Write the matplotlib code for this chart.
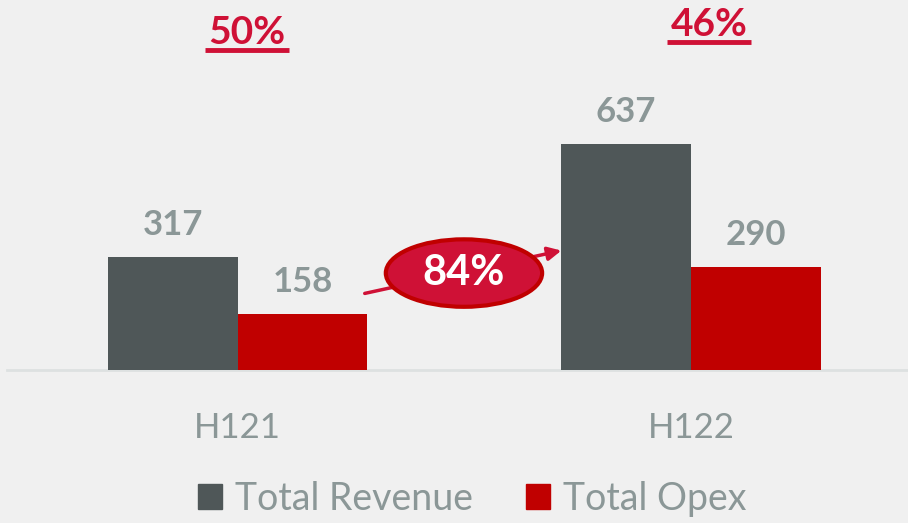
import matplotlib; matplotlib.use('Agg')
import matplotlib.pyplot as plt
from matplotlib.patches import Ellipse, Patch
import numpy as np

periods = ['H121', 'H122']
revenue = [317, 637]
opex = [158, 290]
opex_ratio = ['50%', '46%']
growth = '84%'

BG = '#f0f0f0'; REV = '#4f5758'; OPX = '#c00000'; PINK = '#cf1136'; TXT = '#8b9797'
plt.rcParams['font.family'] = ['Lato', 'DejaVu Sans']

fig = plt.figure(figsize=(9.08, 5.23), dpi=100)
fig.patch.set_facecolor(BG)
ax = fig.add_axes([0, 153/523, 1, 370/523])
ax.set_facecolor(BG)
for s in ax.spines.values(): s.set_visible(False)

x = np.arange(len(periods)); w = 0.286
ax.bar(x - w/2, revenue, w, color=REV, zorder=2)
ax.bar(x + w/2, opex, w, color=OPX, zorder=2)
ax.set_xlim(-0.525, 1.479); ax.set_ylim(0, 1042)
ax.axhline(0, xmin=7/908, xmax=1, color='#dde1e1', lw=2, zorder=1, clip_on=False)

for xi, r, o in zip(x, revenue, opex):
    ax.text(xi - w/2, r + 45, str(r), ha='center', va='bottom', fontsize=25,
            fontweight='bold', color=TXT)
    ax.text(xi + w/2, o + 45, str(o), ha='center', va='bottom', fontsize=25,
            fontweight='bold', color=TXT)

ax.set_xticks(x, periods)
ax.tick_params(axis='x', length=0, pad=30, labelsize=25, labelcolor=TXT)
ax.set_yticks([])

# opex / revenue ratio with underline
for xi, lbl, yy in zip(x + np.array([0.02, 0.04]), opex_ratio, [950, 973]):
    ax.text(xi, yy, lbl, ha='center', va='center', fontsize=28,
            fontweight='bold', color=PINK, clip_on=False)
    ax.plot([xi - 0.092, xi + 0.092], [yy - 50, yy - 50], color=PINK, lw=3.5,
            solid_capstyle='butt', clip_on=False)

# revenue growth arrow + bubble
ax.annotate('', xy=(0.72, 338), xytext=(0.274, 214),
            arrowprops=dict(arrowstyle='-|>', color=PINK, lw=2.5, mutation_scale=20),
            zorder=3)
ax.add_patch(Ellipse((0.499, 273), 0.345, 190, facecolor=PINK, edgecolor=OPX,
                     lw=3, zorder=4))
ax.text(0.499, 273, growth, ha='center', va='center', fontsize=30,
        fontweight='bold', color='white', zorder=5)

handles = [Patch(color=REV, label='Total Revenue'), Patch(color=OPX, label='Total Opex')]
fig.legend(handles=handles, loc='center', bbox_to_anchor=(0.52, 0.046), ncol=2,
           frameon=False, fontsize=27, labelcolor=TXT, handlelength=0.65,
           handleheight=0.65, handletextpad=0.35, columnspacing=1.4)

plt.savefig('out.png', dpi=100, facecolor=BG)
